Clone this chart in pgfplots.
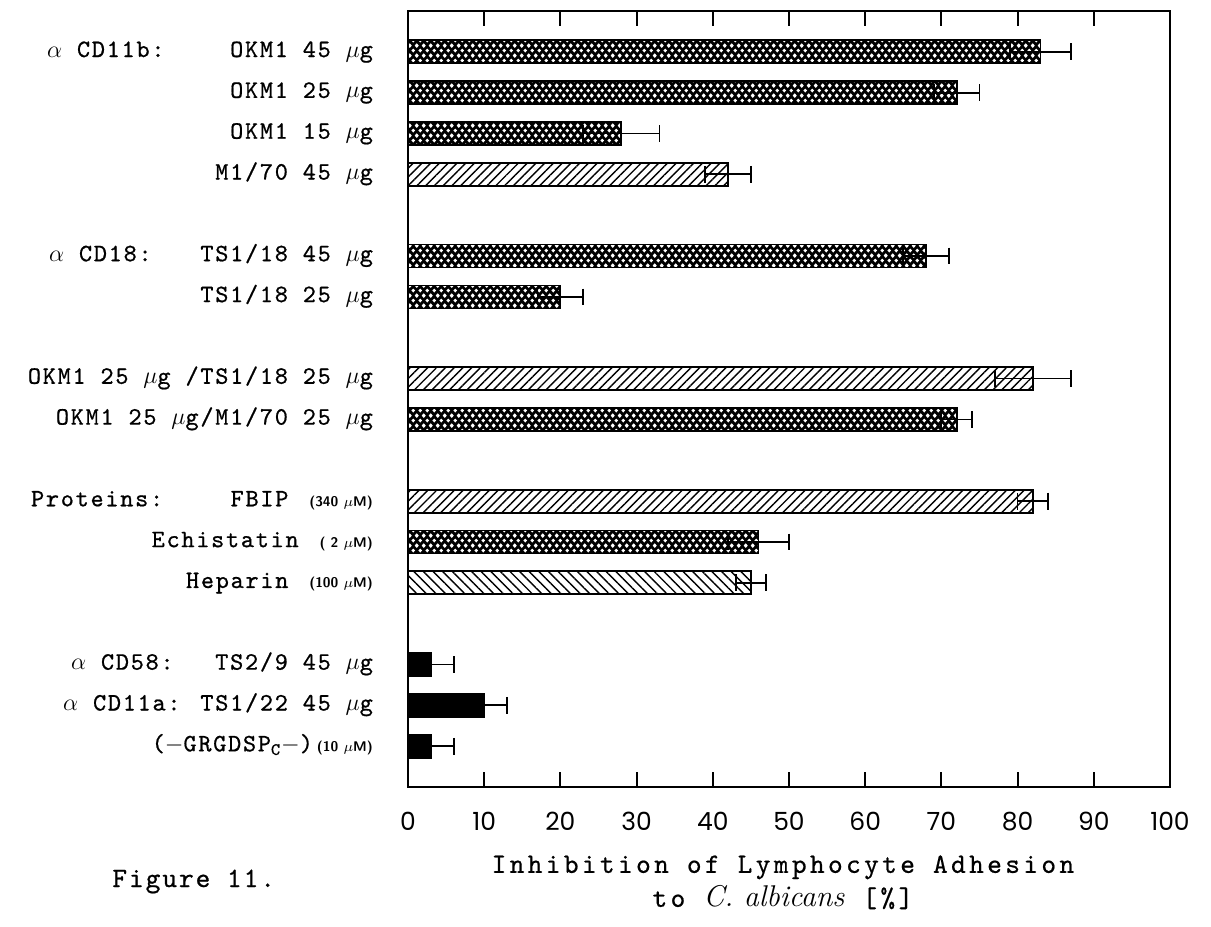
\documentclass[border=0pt]{standalone}
\usepackage{fontspec}
\usepackage{pgfplots}
\pgfplotsset{compat=1.18}
\usepackage{pgfplotstable}
\usetikzlibrary{patterns,patterns.meta}
\newfontfamily\labfont{lmmono10-regular}[Extension=.otf, LetterSpace=7, FakeBold=0.7]
\newfontfamily\axfont{lmmono10-regular}[Extension=.otf, LetterSpace=12, FakeBold=0.6]
\newfontfamily\tickfont{Poppins}

\tikzdeclarepattern{
  name=xdots,
  type=colored,
  bottom left={(0pt,0pt)},
  top right={(3.6pt,5.2pt)},
  tile size={(3.6pt,5.2pt)},
  code={
    \fill[black] (0pt,0pt) rectangle (3.6pt,5.2pt);
    \fill[white] (1.8pt,0.25pt) -- (2.8pt,1.3pt) -- (1.8pt,2.35pt) -- (0.8pt,1.3pt) -- cycle;
    \fill[white] (0pt,2.85pt) -- (1.0pt,3.9pt) -- (0pt,4.95pt) -- (-1.0pt,3.9pt) -- cycle;
    \fill[white] (3.6pt,2.85pt) -- (4.6pt,3.9pt) -- (3.6pt,4.95pt) -- (2.6pt,3.9pt) -- cycle;
  }
}

\pgfplotstableread{
y  v  e
0  83 4
1  72 3
2  28 5
5  68 3
6  20 3
9  72 2
12 46 4
}\crossdata
\pgfplotstableread{
y  v  e
3  42 3
8  82 5
11 82 2
}\nedata
\pgfplotstableread{
y  v  e
13 45 2
}\nwdata
\pgfplotstableread{
y  v  e
15 3  3
16 10 3
17 3  3
}\blackdata

\begin{document}
\begin{tikzpicture}
\begin{axis}[
  scale only axis, width=381pt, height=388pt,
  xmin=0, xmax=100, ymin=-1, ymax=18, y dir=reverse,
  xtick={0,10,...,100}, tick align=inside, major tick length=7.5pt,
  ytick={0,1,2,3,5,6,8,9,11,12,13,15,16,17},
  yticklabels={
    {OKM1 45 $\mu$g},
    {OKM1 25 $\mu$g},
    {OKM1 15 $\mu$g},
    {M1/70 45 $\mu$g},
    {TS1/18 45 $\mu$g},
    {TS1/18 25 $\mu$g},
    {OKM1 25 $\mu$g /TS1/18 25 $\mu$g},
    {OKM1 25 $\mu$g/M1/70 25 $\mu$g},
    {FBIP \hspace{3pt}{\sffamily\bfseries\fontsize{7}{8}\selectfont (340 $\mu$M)}},
    {Echistatin \hspace{3pt}{\sffamily\bfseries\fontsize{7}{8}\selectfont ( 2 $\mu$M)}},
    {Heparin \hspace{3pt}{\sffamily\bfseries\fontsize{7}{8}\selectfont (100 $\mu$M)}},
    {TS2/9 45 $\mu$g},
    {$\alpha$ CD11a: TS1/22 45 $\mu$g},
    {($-$GRGDSP\textsubscript{C}$-$)\hspace{2pt}{\sffamily\bfseries\fontsize{7}{8}\selectfont (10 $\mu$M)}}
  },
  ytick style={draw=none},
  yticklabel style={font=\labfont\fontsize{12.5}{14}\selectfont, xshift=-14pt, text height=1.7ex, text depth=0.5ex},
  xticklabel style={font=\tickfont\fontsize{12.5}{14}\selectfont, yshift=-9pt},
  /pgf/number format/assume math mode=true,
  axis line style={line width=1pt},
  xtick style={line width=1pt, black},
  clip=false,
  bar shift=0pt, bar width=11.5pt,
  xlabel={Inhibition of Lymphocyte Adhesion\\to {\rmfamily\itshape\fontsize{15}{17}\selectfont C.\ albicans} [\%]},
  xlabel style={at={(rel axis cs:0.492,0)}, anchor=north, yshift=-34pt, inner sep=0pt, align=center, font=\axfont\fontsize{14}{17}\selectfont},
  every axis plot/.append style={xbar, draw=black, line width=0.9pt,
    error bars/x dir=both, error bars/x explicit,
    error bars/error bar style={line width=0.9pt, black},
    error bars/error mark options={rotate=90, mark size=4.2pt, line width=0.9pt, black}},
]
\addplot[pattern=xdots] table[x=v, y=y, x error=e] {\crossdata};
\addplot[pattern={Lines[angle=45, distance=3.1pt, line width=0.7pt]}] table[x=v, y=y, x error=e] {\nedata};
\addplot[pattern={Lines[angle=-45, distance=3.4pt, line width=0.7pt]}] table[x=v, y=y, x error=e] {\nwdata};
\addplot[fill=black] table[x=v, y=y, x error=e] {\blackdata};

\node[anchor=west, font=\labfont\fontsize{12.5}{14}\selectfont, text height=1.7ex, text depth=0.5ex] at ([xshift=-184pt]axis cs:0,0) {$\alpha$ CD11b:};
\node[anchor=west, font=\labfont\fontsize{12.5}{14}\selectfont, text height=1.7ex, text depth=0.5ex] at ([xshift=-183pt]axis cs:0,5) {$\alpha$ CD18:};
\node[anchor=west, font=\labfont\fontsize{12.5}{14}\selectfont, text height=1.7ex, text depth=0.5ex] at ([xshift=-192pt]axis cs:0,11) {Proteins:};
\node[anchor=west, font=\labfont\fontsize{12.5}{14}\selectfont, text height=1.7ex, text depth=0.5ex] at ([xshift=-172pt]axis cs:0,15) {$\alpha$ CD58:};
\end{axis}
\node[anchor=base west, inner sep=0pt, font=\labfont\fontsize{14}{16}\selectfont] at ([shift={(-148pt,-50pt)}]current axis.south west) {Figure 11.};
\pgfresetboundingbox
\path[use as bounding box] ([shift={(-204pt,-70pt)}]current axis.south west) rectangle ([shift={(20.5pt,5.5pt)}]current axis.north east);
\end{tikzpicture}
\end{document}
